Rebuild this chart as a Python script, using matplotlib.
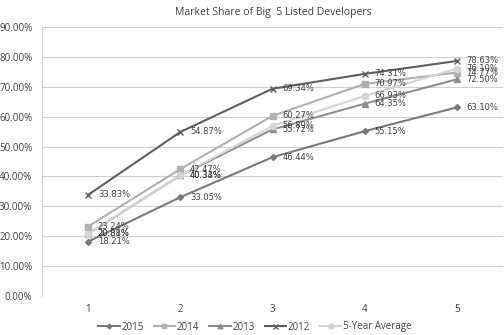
import matplotlib
matplotlib.use("Agg")
import matplotlib.pyplot as plt
from matplotlib.ticker import FuncFormatter

plt.rcParams['font.family'] = ['Open Sans', 'DejaVu Sans']

categories = [1, 2, 3, 4, 5]
s2015 = [18.21, 33.05, 46.44, 55.15, 63.10]
s2014 = [23.24, 42.47, 60.27, 70.97, 74.77]
s2013 = [20.81, 40.33, 55.72, 64.35, 72.50]
s2012 = [33.83, 54.87, 69.34, 74.31, 78.63]
s_avg = [20.88, 40.34, 56.89, 66.93, 76.10]
series_names = ["2015", "2014", "2013", "2012", "5-Year Average"]
yticks = [0, 10, 20, 30, 40, 50, 60, 70, 80, 90]

series = [s2015, s2014, s2013, s2012, s_avg]
colors = ["#7a7a7a", "#b0b0b0", "#8e8e8e", "#5e5e5e", "#d4d4d4"]
markers = ["D", "s", "^", "x", "o"]
msizes = [3, 4.2, 4.2, 4.5, 4.5]

fig = plt.figure(figsize=(5.04, 3.35), dpi=100)
ax = fig.add_axes([42/504, 39/335, (503-42)/504, (296-27)/335])

for name, vals, c, m, ms in zip(series_names, series, colors, markers, msizes):
    ax.plot(categories, vals, color=c, lw=1.5, marker=m, ms=ms, mew=1.0,
            mec=c, mfc=c, label=name, zorder=3)
    for x, v in zip(categories, vals):
        ax.annotate(f"{v:.2f}%", (x, v), xytext=(7, 0), textcoords="offset points",
                    fontsize=6, color="#404040", va="center", ha="left",
                    family=['DejaVu Sans'], zorder=4)

ax.set_xlim(0.5, 5.5)
ax.set_ylim(0, 90)
ax.set_yticks(yticks)
ax.yaxis.set_major_formatter(FuncFormatter(lambda v, p: f"{v:.2f}%"))
ax.set_xticks(categories)
ax.grid(axis='y', color="#d0d0d0", lw=0.8)
ax.set_axisbelow(True)
for s in ["top", "right", "bottom"]:
    ax.spines[s].set_visible(False)
ax.spines["left"].set_color("#d0d0d0")
ax.tick_params(axis='both', length=0, labelsize=7, colors="#404040")
ax.tick_params(axis='x', pad=6)
ax.tick_params(axis='y', pad=7)

fig.text(273/504, 1 - 12/335, "Market Share of Big  5 Listed Developers", ha="center",
         va="center", fontsize=7.5, color="#404040")

fig.legend(loc="center", bbox_to_anchor=(255/504, 1 - 327/335), ncol=5, frameon=False,
           fontsize=7, handlelength=2.2, columnspacing=1.0, handletextpad=0.2,
           labelcolor="#404040", markerscale=0.8)

fig.savefig("out.png", dpi=100)
